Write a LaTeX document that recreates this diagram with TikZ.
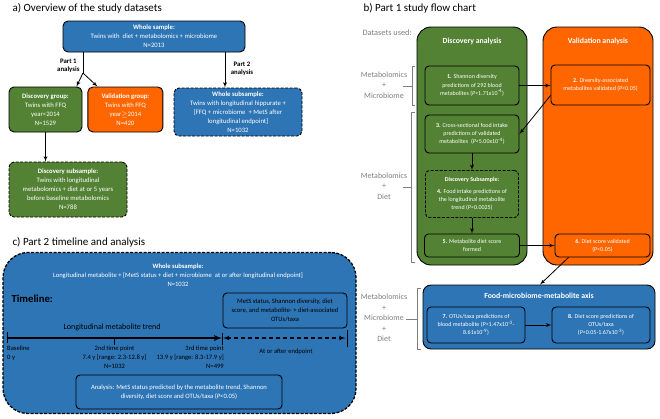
\documentclass[tikz,border=0pt]{standalone}
\usepackage{fontspec}
\setmainfont{Carlito}
\usetikzlibrary{arrows, positioning}

\definecolor{cblue}{HTML}{2E75B6}
\definecolor{cgreen}{HTML}{548235}
\definecolor{corange}{HTML}{FF6600}
\definecolor{cgray}{HTML}{7F7F7F}

\begin{document}
\begin{tikzpicture}[x=1pt, y=-1pt,
        wh/.style 2 args={minimum width=#1pt, minimum height=#2pt},
        box/.style={draw, rectangle, rounded corners=5pt, text=white, align=center, line width=0.9pt, inner sep=1pt},
        bluebox/.style={box, fill=cblue},
        greenbox/.style={box, fill=cgreen},
        orangebox/.style={box, fill=corange},
        inbox/.style={box, rounded corners=4pt},
        dashbox/.style={dash pattern=on 3pt off 1.5pt},
        sizea/.style={font=\fontsize{6.7}{9}\selectfont},
        sizeb/.style={font=\fontsize{6}{8.2}\selectfont},
        sizec/.style={font=\fontsize{6.6}{9}\selectfont},
        heading/.style={text=white, font=\bfseries\fontsize{7.8}{9}\selectfont},
        title/.style={anchor=west, font=\fontsize{11}{13}\selectfont},
        brk/.style={draw=cgray, line width=0.6pt},
        brklabel/.style={text=cgray, align=center, font=\fontsize{8}{10.5}\selectfont},
        line/.style={draw, -latex', line width=0.8pt}]

        \useasboundingbox (0,0) rectangle (660,418);

        % a) overview of the datasets
        \node [title] (ta) at (9,8) {a) Overview of the study datasets};
        \node [bluebox, sizea, wh={182}{31}] (whole) at (154,36.5) {\textbf{Whole sample:}\\Twins with\ \ diet + metabolomics + microbiome\\N=2013};
        \node [greenbox, sizea, wh={73}{45}] (dgroup) at (45.5,109.5) {\textbf{Discovery group:}\\Twins with FFQ\\year<2014\\N=1529};
        \node [orangebox, sizea, wh={75}{45}, right=5pt of dgroup] (vgroup) {\textbf{Validation group:}\\Twins with FFQ\\year$\geq$2014\\N=420};
        \node [bluebox, dashbox, sizea, wh={128}{48}] (wsub) at (238,112) {\textbf{Whole subsample:}\\Twins with longitudinal hippurate +\\{[}FFQ + microbiome\ \ + MetS after\\longitudinal endpoint]\\N=1032};
        \node [greenbox, dashbox, sizea, wh={118}{55}] (dsub) at (68,189.5) {\textbf{Discovery subsample:}\\Twins with longitudinal\\metabolomics + diet at or 5 years\\before baseline metabolomics\\N=788};

        \coordinate (split) at (83,73);
        \draw [line width=0.8pt] (whole.south -| split) -- (split);
        \path [line] (split) -- ([xshift=-6pt]dgroup.north east);
        \path [line] (split) -- ([xshift=10pt]vgroup.north west);
        \node [align=center, font=\bfseries\fontsize{6.8}{8.5}\selectfont, left=0pt of split, yshift=7pt] (p1) {Part 1\\analysis};
        \path [line] ([xshift=71pt]whole.south) -- ([xshift=-13pt]wsub.north);
        \node [align=center, font=\bfseries\fontsize{6.8}{8.5}\selectfont] (p2) at (242,69) {Part 2\\analysis};
        \path [line] (dgroup.south) -- (dgroup.south |- dsub.north);

        % b) part 1 flow chart
        \node [title] (tb) at (360,8) {b) Part 1 study flow chart};
        \node [anchor=west, text=cgray, font=\fontsize{8.3}{10}\selectfont] (used) at (359,33) {Datasets used:};
        \node [greenbox, rounded corners=14pt, wh={110}{238}] (dana) at (472,146) {};
        \node [orangebox, rounded corners=14pt, wh={110}{238}] (vana) at (598,146) {};
        \node [heading, anchor=north] at ([yshift=-8pt]dana.north) {Discovery analysis};
        \node [heading, anchor=north] at ([yshift=-8pt]vana.north) {Validation analysis};

        \node [inbox, sizeb, wh={94}{39}] (b1) at (472,85.5) {\textbf{1.} Shannon diversity\\predictions of 292 blood\\metabolites (\textit{P}<1.71x10\textsuperscript{-4})};
        \node [inbox, sizeb, wh={99}{40}] (b2) at (600.5,85) {\textbf{2.} Diversity-associated\\metabolites validated (\textit{P}<0.05)};
        \node [inbox, sizeb, wh={94}{38}] (b3) at (472,134) {\textbf{3.} Cross-sectional food intake\\predictions of validated\\metabolites\ \ (\textit{P}<5.00x10\textsuperscript{-4})};
        \node [inbox, dashbox, sizeb, wh={93}{47}] (b4) at (472,194) {\textbf{Discovery Subsample:}\\[3pt]\textbf{4.} Food intake predictions of\\the longitudinal metabolite\\trend (\textit{P}<0.0025)};
        \node [inbox, sizeb, wh={95}{23}] (b5) at (472,245.5) {\textbf{5.} Metabolite diet score\\formed};
        \node [inbox, sizeb, wh={95}{23}] (b6) at (602.5,245.5) {\textbf{6.} Diet score validated\\(P<0.05)};
        \node [bluebox, rounded corners=8pt, wh={232}{64}] (axis) at (539,317) {};
        \node [heading, anchor=north] at ([yshift=-5pt]axis.north) {Food-microbiome-metabolite axis};
        \node [inbox, sizeb, wh={98}{36}] (b7) at (476,325) {\textbf{7.} OTUs/taxa predictions of\\blood metabolite (\textit{P}<1.47x10\textsuperscript{-3}-\\8.61x10\textsuperscript{-9})};
        \node [inbox, sizeb, wh={98}{36}] (b8) at (601,325) {\textbf{8.} Diet score predictions of\\OTUs/taxa\\(\textit{P}<0.05-1.67x10\textsuperscript{-3})};

        \path [line] (b1.east) -- (b1.east -| b2.west);
        \path [line] ([yshift=10pt]b2.south west) -- (b3.east);
        \path [line] (b3) -- (b4);
        \path [line] (b4) -- (b5);
        \path [line] (b5) -- (b6);
        \path [line] ([xshift=-34pt]b6.south) -- ([xshift=1pt]axis.north);
        \path [line] (b7) -- (b8);

        % brackets for datasets
        \node [brklabel] (mm) at (384,85) {Metabolomics\\+\\Microbiome};
        \draw [brk] (415,66) -- (412,66) -- (412,105) -- (415,105) (412,86) -- (403,86);
        \node [brklabel] (md) at (384,186) {Metabolomics\\+\\Diet};
        \draw [brk] (415,112) -- (411,112) -- (411,262) -- (415,262) (411,187) -- (403,187);
        \node [brklabel] (mmd) at (384,318) {Metabolomics\\+\\Microbiome\\+\\Diet};
        \draw [brk] (421,288) -- (417,288) -- (417,349) -- (421,349) (417,319) -- (406,319);

        % c) part 2 timeline
        \node [title] (tc) at (9,242) {c) Part 2 timeline and analysis};
        \node [bluebox, dashbox, rounded corners=25pt, line width=1.3pt, wh={353}{161}] (csub) at (179.5,333) {};
        \node [anchor=north, text=white, align=center, sizec] (chead) at (178,260) {\textbf{Whole subsample:}\\Longitudinal metabolite + [MetS status + diet + microbiome\ \ at or after longitudinal endpoint]\\N=1032};
        \node [anchor=west, font=\bfseries\fontsize{10.7}{12}\selectfont] (tl) at (8,299) {Timeline:};
        \node [inbox, text=black, sizec, wh={124}{35}] (mets) at (285,310.5) {MetS status, Shannon diversity, diet\\score, and metabolite- + diet-associated\\OTUs/taxa};
        \node [font=\fontsize{8}{9}\selectfont] (trend) at (112,327) {Longitudinal metabolite trend};

        \coordinate (t0) at (7,338);
        \coordinate (t2) at (114,338);
        \coordinate (t3) at (222,338);
        \coordinate (tend) at (347,338);
        \draw [line width=1.8pt, -latex'] (t0) -- (t3);
        \draw [line width=0.8pt] ([yshift=6pt]t0) -- ([yshift=-5pt]t0);
        \draw [line width=1pt] (t2) -- ([yshift=-7pt]t2);
        \draw [line width=0.8pt] ([yshift=5pt]t3) -- ([yshift=-7pt]t3);
        \draw [line width=1.2pt, dash pattern=on 4pt off 3pt, latex'-latex'] ([xshift=1pt]t3) -- ([xshift=-1.5pt]tend);
        \draw [line width=0.8pt] ([yshift=8pt]tend) -- ([yshift=-9pt]tend);

        \node [anchor=north west, align=left, sizec, inner sep=0pt] (base) at (7,346) {Baseline\\0 y};
        \node [anchor=north, align=center, sizec, inner sep=0pt] (second) at (114.5,346) {2nd time point\\7.4 y [range: 2.3-12.8 y]\\N=1032};
        \node [anchor=north east, align=right, sizec, inner sep=0pt] (third) at (224,346) {3rd time point\\13.9 y [range: 8.3-17.9 y]\\N=499};
        \node [sizec] (after) at (286,352) {At or after endpoint};
        \node [inbox, sizec, wh={206}{34}] (anal) at (179,392) {Analysis: MetS status predicted by the metabolite trend, Shannon\\diversity, diet score and OTUs/taxa (\textit{P}<0.05)};
    \end{tikzpicture}
\end{document}
